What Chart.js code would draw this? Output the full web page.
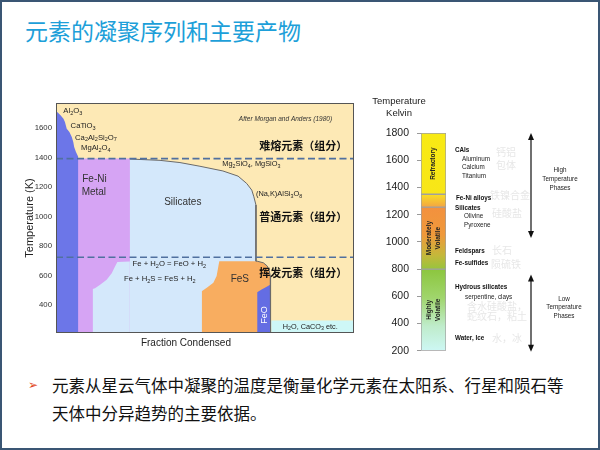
<!DOCTYPE html>
<html>
<head>
<meta charset="utf-8">
<title>元素的凝聚序列和主要产物</title>
<script src="https://cdn.jsdelivr.net/npm/chart.js@4.4.1/dist/chart.umd.min.js"></script>
<style>
  html, body { margin: 0; padding: 0; background: #fff; }
  #slide { position: relative; width: 600px; height: 450px; overflow: hidden; background: #fff; }
  #frame { position: absolute; left: 0; top: 0; width: 600px; height: 450px; box-sizing: border-box; border: 2px solid #3a5674; pointer-events: none; }
  #title { position: absolute; left: 25px; top: 19px; font: 23px/23px "Noto Sans CJK SC", sans-serif; color: #1d9fd9; white-space: nowrap; }
  #note { position: absolute; left: 52px; top: 371px; font: 16.5px/28px "Noto Sans CJK SC", sans-serif; color: #111; white-space: nowrap; }
  #mark { position: absolute; left: 28px; top: 376px; font: 12px/18px "DejaVu Sans", sans-serif; color: #e2471c; }
  #condense { position: absolute; left: 0; top: 90px; }
  #zones { position: absolute; left: 360px; top: 90px; }
</style>
</head>
<body>
<div id="slide">
  <div id="title">元素的凝聚序列和主要产物</div>
  <canvas id="condense" width="370" height="260"></canvas>
  <canvas id="zones" width="240" height="275"></canvas>
  <div id="mark">➢</div>
  <div id="note">元素从星云气体中凝聚的温度是衡量化学元素在太阳系、行星和陨石等<br>天体中分异趋势的主要依据。</div>
  <div id="frame"></div>
</div>
<script>
// condensation sequence: x = fraction condensed (%), T = temperature (K)
const refractoryX = [0, 0.5, 1.6, 2.5, 3.0, 3.6, 4.5, 5.3, 5.8, 6.1, 6.7, 7.5, 7.5];
const refractoryT = [1712, 1708, 1686, 1663, 1641, 1596, 1573, 1539, 1505, 1472, 1438, 1404, 210];
const metalX = [0, 24.8, 24.8];
const metalT = [1393, 1393, 210];
const silicateX = [0, 24.8, 34.9, 41.6, 48.3, 56.0, 61.1, 64.0, 65.7, 66.4, 67.1, 67.1];
const silicateT = [1393, 1390, 1381, 1366, 1341, 1309, 1274, 1224, 1179, 1134, 1078, 210];
const oxidisedX = [12.3, 12.3, 13.1, 14.8, 17.0, 18.7, 19.8, 20.6, 24.8, 24.8];
const oxidisedT = [210, 508, 514, 537, 571, 616, 661, 691, 695, 210];
const fesX = [48.9, 48.9, 50.6, 52.8, 53.9, 54.5, 54.8, 67.5, 69.6, 70.9, 71.6, 71.9, 72.0, 72.0];
const fesT = [210, 494, 517, 551, 596, 664, 697, 697, 686, 664, 630, 596, 551, 210];
const feoX = [67.5, 67.5, 69.0, 70.7, 72.0, 72.0];
const feoT = [210, 487, 505, 523, 539, 210];
const iceX = [72.2, 100];
const iceT = [294, 294];
const dashT = [1393, 724];
const leftTicks = [400, 600, 800, 1000, 1200, 1400, 1600];

// volatility column on the right
const zoneNames = [['Refractory'], [], ['Moderately', 'Volatile'], ['Highly', 'Volatile']];
const zoneTop = [1800, 1350, 1255, 800];
const zoneBottom = [1350, 1255, 800, 200];
const rightTicks = [200, 400, 600, 800, 1000, 1200, 1400, 1600, 1800];

const pts = (xs, ts) => xs.map((x, i) => ({ x: x, y: ts[i] }));

const SANS = '"Liberation Sans", Arial, sans-serif';
const CJK = '"Noto Sans CJK SC", sans-serif';

// text with simple subscripts: "_2" draws a subscript 2
function drawRich(ctx, text, x, y, o) {
  const size = o.size || 8;
  const fam = o.family || SANS;
  const style = (o.italic ? 'italic ' : '') + (o.bold ? 'bold ' : '');
  const parts = [];
  for (let i = 0; i < text.length; i++) {
    if (text[i] === '_') {
      parts.push({ t: text[++i], sub: true });
    } else if (parts.length && !parts[parts.length - 1].sub) {
      parts[parts.length - 1].t += text[i];
    } else {
      parts.push({ t: text[i], sub: false });
    }
  }
  const fontOf = p => style + (p.sub ? size * 0.72 : size) + 'px ' + fam;
  let w = 0;
  ctx.save();
  parts.forEach(p => { ctx.font = fontOf(p); p.w = ctx.measureText(p.t).width; w += p.w; });
  ctx.translate(x, y);
  if (o.rotate) ctx.rotate(o.rotate);
  let cx = o.align === 'center' ? -w / 2 : o.align === 'right' ? -w : 0;
  ctx.textBaseline = 'middle';
  ctx.textAlign = 'left';
  ctx.fillStyle = o.color || '#222';
  parts.forEach(p => {
    ctx.font = fontOf(p);
    ctx.fillText(p.t, cx, p.sub ? size * 0.3 : 0);
    cx += p.w;
  });
  ctx.restore();
}

const condenseDeco = {
  id: 'condenseDeco',
  beforeDatasetsDraw(chart) {
    const { ctx, chartArea: a } = chart;
    ctx.save();
    ctx.fillStyle = '#fde9b5';
    ctx.fillRect(a.left, a.top, a.width, a.height);
    ctx.restore();
  },
  afterDatasetsDraw(chart) {
    const { ctx, chartArea: a, scales } = chart;
    const px = v => scales.x.getPixelForValue(v);
    const py = v => scales.y.getPixelForValue(v);
    ctx.save();
    ctx.strokeStyle = '#555';
    ctx.lineWidth = 1;
    ctx.strokeRect(a.left + 0.5, a.top + 0.5, a.width - 1, a.height - 1);
    ctx.restore();

    const f = 7.7;
    const labels = [
      ['Al_2O_3', 2.45, 1718, { size: f }],
      ['CaTiO_3', 4.9, 1616, { size: f }],
      ['Ca_2Al_2Si_2O_7', 6.4, 1535, { size: f }],
      ['MgAl_2O_4', 8.4, 1463, { size: f }],
      ['After Morgan and Anders (1980)', 77.0, 1661, { size: 6.5, italic: true, align: 'center', color: '#333' }],
      ['难熔元素（组分）', 68.2, 1478, { size: 11, bold: true, family: CJK, color: '#111' }],
      ['普通元素（组分）', 68.2, 995, { size: 11, bold: true, family: CJK, color: '#111' }],
      ['挥发元素（组分）', 68.2, 615, { size: 11, bold: true, family: CJK, color: '#111' }],
      ['Fe-Ni', 8.8, 1252, { size: 10, color: '#333' }],
      ['Metal', 8.6, 1168, { size: 10, color: '#333' }],
      ['Silicates', 36.3, 1096, { size: 10, color: '#333' }],
      ['Mg_2SiO_4, MgSiO_3', 55.8, 1356, { size: 7.4 }],
      ['(Na,K)AlSi_3O_8', 67.1, 1151, { size: 7.4 }],
      ['Fe + H_2O = FeO + H_2', 25.7, 676, { size: f }],
      ['Fe + H_2S = FeS + H_2', 22.8, 576, { size: f }],
      ['FeS', 58.6, 576, { size: 10, color: '#333' }],
      ['FeO', 70.0, 332, { size: 9, color: '#fff', align: 'center', rotate: -Math.PI / 2 }],
      ['H_2O, CaCO_3 etc.', 76.1, 253, { size: 7.3 }]
    ];
    labels.forEach(l => drawRich(ctx, l[0], px(l[1]), py(l[2]), l[3]));
    drawRich(ctx, 'Fraction Condensed', px(43.6), a.bottom + 10, { size: 10, align: 'center' });
  }
};

const fillSet = (data, color, order) => ({
  data: data, backgroundColor: color, borderWidth: 0, fill: 'start', order: order
});

const silicatePts = pts(silicateX, silicateT);
const fesPts = pts(fesX, fesT);
const edgePts = silicatePts.slice(1, 11)
  .concat([{ x: silicateX[10], y: fesT[7] }])
  .concat(fesPts.slice(7));

new Chart(document.getElementById('condense'), {
  type: 'line',
  data: {
    datasets: [
      fillSet(silicatePts, '#d4e8fb', 9),
      fillSet(pts(metalX, metalT), '#d6a4f4', 8),
      fillSet(pts(oxidisedX, oxidisedT), '#d4e8fb', 7),
      fillSet(pts(refractoryX, refractoryT), '#6c76e8', 6),
      fillSet(fesPts, '#f8ad60', 5),
      fillSet(pts(feoX, feoT), '#646de3', 4),
      fillSet(pts(iceX, iceT), '#cef7f7', 3),
      { data: edgePts, borderColor: '#6a6a6a', borderWidth: 1, fill: false, order: 2 },
      ...dashT.map(t => ({
        data: [{ x: 0, y: t }, { x: 100, y: t }],
        borderColor: '#50709f', borderWidth: 1.6, borderDash: [7, 3.5], fill: false, order: 1
      }))
    ]
  },
  options: {
    responsive: false,
    animation: false,
    devicePixelRatio: 1,
    layout: { padding: { left: 0, top: 13, right: 16, bottom: 17 } },
    elements: { point: { radius: 0 }, line: { tension: 0 } },
    plugins: { legend: { display: false }, tooltip: { enabled: false } },
    scales: {
      x: { type: 'linear', min: 0, max: 100, display: false },
      y: {
        type: 'linear', min: 210, max: 1770,
        afterBuildTicks: s => { s.ticks = leftTicks.map(v => ({ value: v })); },
        afterFit: s => { s.width = 56; },
        grid: { display: false, drawTicks: false },
        border: { display: false },
        ticks: { font: { family: SANS, size: 7.8 }, color: '#333', padding: 4, callback: v => String(v) },
        title: { display: true, text: 'Temperature (K)', font: { family: SANS, size: 11 }, color: '#222', padding: { top: 23, bottom: 0 } }
      }
    }
  },
  plugins: [condenseDeco]
});

// colour stops for each band of the volatility column
const zoneStops = [
  [[0, '#f8ea14'], [1, '#f8e618']],
  [[0, '#f8df24'], [1, '#f4a443']],
  [[0, '#f3913e'], [0.45, '#ef993b'], [0.78, '#c4b83a'], [1, '#98c43d']],
  [[0, '#8cc63e'], [0.35, '#a0d56c'], [0.7, '#bfeccb'], [1, '#cdf7f4']]
];

function zoneFill(i) {
  return c => {
    const ch = c.chart;
    const ys = ch.scales.y;
    if (!ch.chartArea || !ys) return zoneStops[i][0][1];
    const g = ch.ctx.createLinearGradient(0, ys.getPixelForValue(zoneTop[i]), 0, ys.getPixelForValue(zoneBottom[i]));
    zoneStops[i].forEach(s => g.addColorStop(s[0], s[1]));
    return g;
  };
}

function arrow(ctx, x, y1, y2) {
  ctx.save();
  ctx.strokeStyle = '#111';
  ctx.fillStyle = '#111';
  ctx.lineWidth = 1.2;
  ctx.beginPath();
  ctx.moveTo(x, y1 + 4);
  ctx.lineTo(x, y2 - 4);
  ctx.stroke();
  [[y1, 1], [y2, -1]].forEach(h => {
    ctx.beginPath();
    ctx.moveTo(x, h[0]);
    ctx.lineTo(x - 3, h[0] + 7 * h[1]);
    ctx.lineTo(x + 3, h[0] + 7 * h[1]);
    ctx.closePath();
    ctx.fill();
  });
  ctx.restore();
}

const zoneDeco = {
  id: 'zoneDeco',
  afterDatasetsDraw(chart) {
    const { ctx, chartArea: a, scales } = chart;
    const py = v => scales.y.getPixelForValue(v);
    const cx = (a.left + a.right) / 2;
    drawRich(ctx, 'Temperature', a.left - 22, a.top - 32, { size: 9.5, align: 'center' });
    drawRich(ctx, 'Kelvin', a.left - 22, a.top - 20, { size: 9.5, align: 'center' });

    zoneNames.forEach((lines, i) => {
      const mid = py((zoneTop[i] + zoneBottom[i]) / 2);
      lines.forEach((t, j) => {
        const off = (j - (lines.length - 1) / 2) * 8.5;
        drawRich(ctx, t, cx + off, mid, { size: 6.5, bold: true, align: 'center', rotate: -Math.PI / 2, color: '#222' });
      });
    });

    const r = a.right;
    const b = { size: 6.3, bold: true, color: '#111' };
    const n = { size: 6.3, color: '#222' };
    const faint = { size: 10, family: CJK, color: '#e7e7e7' };
    const side = [
      ['CAIs', 9, 1672, b], ['Aluminum', 16, 1610, n], ['Calcium', 16, 1546, n], ['Titanium', 16, 1485, n],
      ['Fe-Ni alloys', 10, 1317, b], ['Silicates', 9, 1250, b], ['Olivine', 18, 1185, n], ['Pyroxene', 18, 1125, n],
      ['Feldspars', 9, 928, b], ['Fe-sulfides', 9, 844, b],
      ['Hydrous silicates', 9, 663, b], ['serpentine, clays', 19, 596, n], ['Water, Ice', 9, 292, b],
      ['钙铝', 50, 1658, faint], ['包体', 50, 1562, faint], ['铁镍合金', 44, 1341, faint], ['硅酸盐', 46, 1209, faint],
      ['长石', 46, 935, faint], ['陨硫铁', 45, 836, faint], ['含水硅酸盐，', 21, 524, faint],
      ['蛇纹石，粘土', 21, 452, faint], ['水，冰', 46, 294, faint]
    ];
    side.forEach(s => drawRich(ctx, s[0], r + s[1], py(s[2]), s[3]));

    const ph = { size: 6.3, color: '#222', align: 'center' };
    [['High', 1526], ['Temperature', 1461], ['Phases', 1396]].forEach(s => drawRich(ctx, s[0], r + 114, py(s[1]), ph));
    [['Low', 577], ['Temperature', 517], ['Phases', 452]].forEach(s => drawRich(ctx, s[0], r + 118, py(s[1]), ph));

    arrow(ctx, r + 85, py(1800), py(1029));
    arrow(ctx, r + 85, py(760), py(193));
  }
};

new Chart(document.getElementById('zones'), {
  type: 'bar',
  data: {
    labels: [''],
    datasets: zoneTop.map((top, i) => ({
      data: [[zoneBottom[i], top]],
      backgroundColor: zoneFill(i),
      borderColor: '#a0a0a0',
      borderWidth: 1,
      borderSkipped: false,
      barPercentage: 1,
      categoryPercentage: 1,
      grouped: false
    }))
  },
  options: {
    responsive: false,
    animation: false,
    devicePixelRatio: 1,
    layout: { padding: { left: 0, top: 43, right: 154, bottom: 10 } },
    plugins: { legend: { display: false }, tooltip: { enabled: false } },
    scales: {
      x: { display: false },
      y: {
        min: 200, max: 1800,
        afterBuildTicks: s => { s.ticks = rightTicks.map(v => ({ value: v })); },
        afterFit: s => { s.width = 61; },
        border: { display: false },
        grid: { drawOnChartArea: false, drawTicks: true, tickLength: 4, color: '#9a9a9a' },
        ticks: { font: { family: SANS, size: 10.5 }, color: '#222', padding: 8, callback: v => String(v) }
      }
    }
  },
  plugins: [zoneDeco]
});
</script>
</body>
</html>
